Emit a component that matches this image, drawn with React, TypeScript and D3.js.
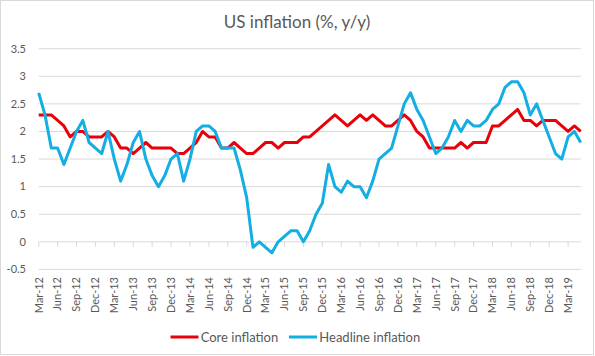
import React from "react";
import * as d3 from "d3";

const W = 595;
const H = 356;

const startYear = 2012;
const startMonth = 2; // March (0-based)
const monthNames = ["Jan","Feb","Mar","Apr","May","Jun","Jul","Aug","Sep","Oct","Nov","Dec"];

// Core inflation (%, y/y), Mar-12 .. May-19
const core: number[] = [
  2.3, 2.3, 2.3, 2.2, 2.1, 1.9, 2.0, 2.0, 1.9, 1.9,
  1.9, 2.0, 1.9, 1.7, 1.7, 1.6, 1.7, 1.8, 1.7, 1.7, 1.7, 1.7,
  1.6, 1.6, 1.7, 1.8, 2.0, 1.9, 1.9, 1.7, 1.7, 1.8, 1.7, 1.6,
  1.6, 1.7, 1.8, 1.8, 1.7, 1.8, 1.8, 1.8, 1.9, 1.9, 2.0, 2.1,
  2.2, 2.3, 2.2, 2.1, 2.2, 2.3, 2.2, 2.3, 2.2, 2.1, 2.1, 2.2,
  2.3, 2.2, 2.0, 1.9, 1.7, 1.7, 1.7, 1.7, 1.7, 1.8, 1.7, 1.8,
  1.8, 1.8, 2.1, 2.1, 2.2, 2.3, 2.4, 2.2, 2.2, 2.1, 2.2, 2.2,
  2.2, 2.1, 2.0, 2.1, 2.0,
];

// Headline inflation (%, y/y), Mar-12 .. May-19
const headline: number[] = [
  2.7, 2.3, 1.7, 1.7, 1.4, 1.7, 2.0, 2.2, 1.8, 1.7,
  1.6, 2.0, 1.5, 1.1, 1.4, 1.8, 2.0, 1.5, 1.2, 1.0, 1.2, 1.5,
  1.6, 1.1, 1.5, 2.0, 2.1, 2.1, 2.0, 1.7, 1.7, 1.7, 1.3, 0.8,
  -0.1, 0.0, -0.1, -0.2, 0.0, 0.1, 0.2, 0.2, 0.0, 0.2, 0.5, 0.7,
  1.4, 1.0, 0.9, 1.1, 1.0, 1.0, 0.8, 1.1, 1.5, 1.6, 1.7, 2.1,
  2.5, 2.7, 2.4, 2.2, 1.9, 1.6, 1.7, 1.9, 2.2, 2.0, 2.2, 2.1,
  2.1, 2.2, 2.4, 2.5, 2.8, 2.9, 2.9, 2.7, 2.3, 2.5, 2.2, 1.9,
  1.6, 1.5, 1.9, 2.0, 1.8,
];

const yTicks: number[] = [-0.5, 0, 0.5, 1, 1.5, 2, 2.5, 3, 3.5];

const months: string[] = core.map((_, i) => {
  const m = (startMonth + i) % 12;
  const y = startYear + Math.floor((startMonth + i) / 12);
  return `${monthNames[m]}-${String(y).slice(2)}`;
});

const xTickLabels: string[] = months.filter((_, i) => i % 3 === 0);

const FONT = "Lato, 'Open Sans', 'Liberation Sans', sans-serif";
const TEXT = "#595959";
const GRID = "#d9d9d9";
const RED = "#e8000b";
const BLUE = "#13aee3";

export default function App() {
  const left = 38.7;
  const right = 580.7;
  const top = 48.7;
  const bottom = 269.4;

  const x = d3.scalePoint<string>().domain(months).range([left, right]);
  const y = d3.scaleLinear().domain([-0.5, 3.5]).range([bottom, top]);

  const line = d3
    .line<number>()
    .x((_, i) => x(months[i]) as number)
    .y((d) => y(d));

  const y0 = y(0);

  return (
    <svg
      width={W}
      height={H}
      style={{ position: "absolute", left: 0, top: 0, background: "#fff" }}
      fontFamily={FONT}
    >
      <rect x={0.5} y={0.5} width={W - 2} height={H - 2} fill="#fff" stroke={GRID} />
      <text x={297} y={27.5} textAnchor="middle" fontSize={17} fill={TEXT}>
        US inflation (%, y/y)
      </text>

      {yTicks.map((t) => (
        <g key={t}>
          {t !== 0 && (
            <line x1={left} x2={right} y1={y(t)} y2={y(t)} stroke={GRID} strokeWidth={1} />
          )}
          <text
            x={26}
            y={y(t)}
            dy="0.35em"
            textAnchor="end"
            fontSize={11}
            fill={TEXT}
          >
            {t}
          </text>
        </g>
      ))}

      {/* category axis at 0 */}
      <line x1={left} x2={right} y1={y0} y2={y0} stroke={GRID} strokeWidth={1} />
      {xTickLabels.map((lab) => (
        <line
          key={"t" + lab}
          x1={x(lab) as number}
          x2={x(lab) as number}
          y1={y0}
          y2={y0 + 5}
          stroke={GRID}
          strokeWidth={1}
        />
      ))}
      {xTickLabels.map((lab) => (
        <text
          key={"l" + lab}
          transform={`translate(${x(lab)},277) rotate(-90)`}
          dy="0.35em"
          textAnchor="end"
          fontSize={11}
          fill={TEXT}
        >
          {lab}
        </text>
      ))}

      <path d={line(core) || ""} fill="none" stroke={RED} strokeWidth={3} strokeLinejoin="round" />
      <path d={line(headline) || ""} fill="none" stroke={BLUE} strokeWidth={3} strokeLinejoin="round" />

      {/* legend */}
      <line x1={170.5} x2={198.5} y1={337} y2={337} stroke={RED} strokeWidth={3} />
      <text x={200.7} y={337} dy="0.35em" fontSize={13} fill={TEXT}>
        Core inflation
      </text>
      <line x1={289} x2={317} y1={337} y2={337} stroke={BLUE} strokeWidth={3} />
      <text x={319.3} y={337} dy="0.35em" fontSize={13} fill={TEXT}>
        Headline inflation
      </text>
    </svg>
  );
}
